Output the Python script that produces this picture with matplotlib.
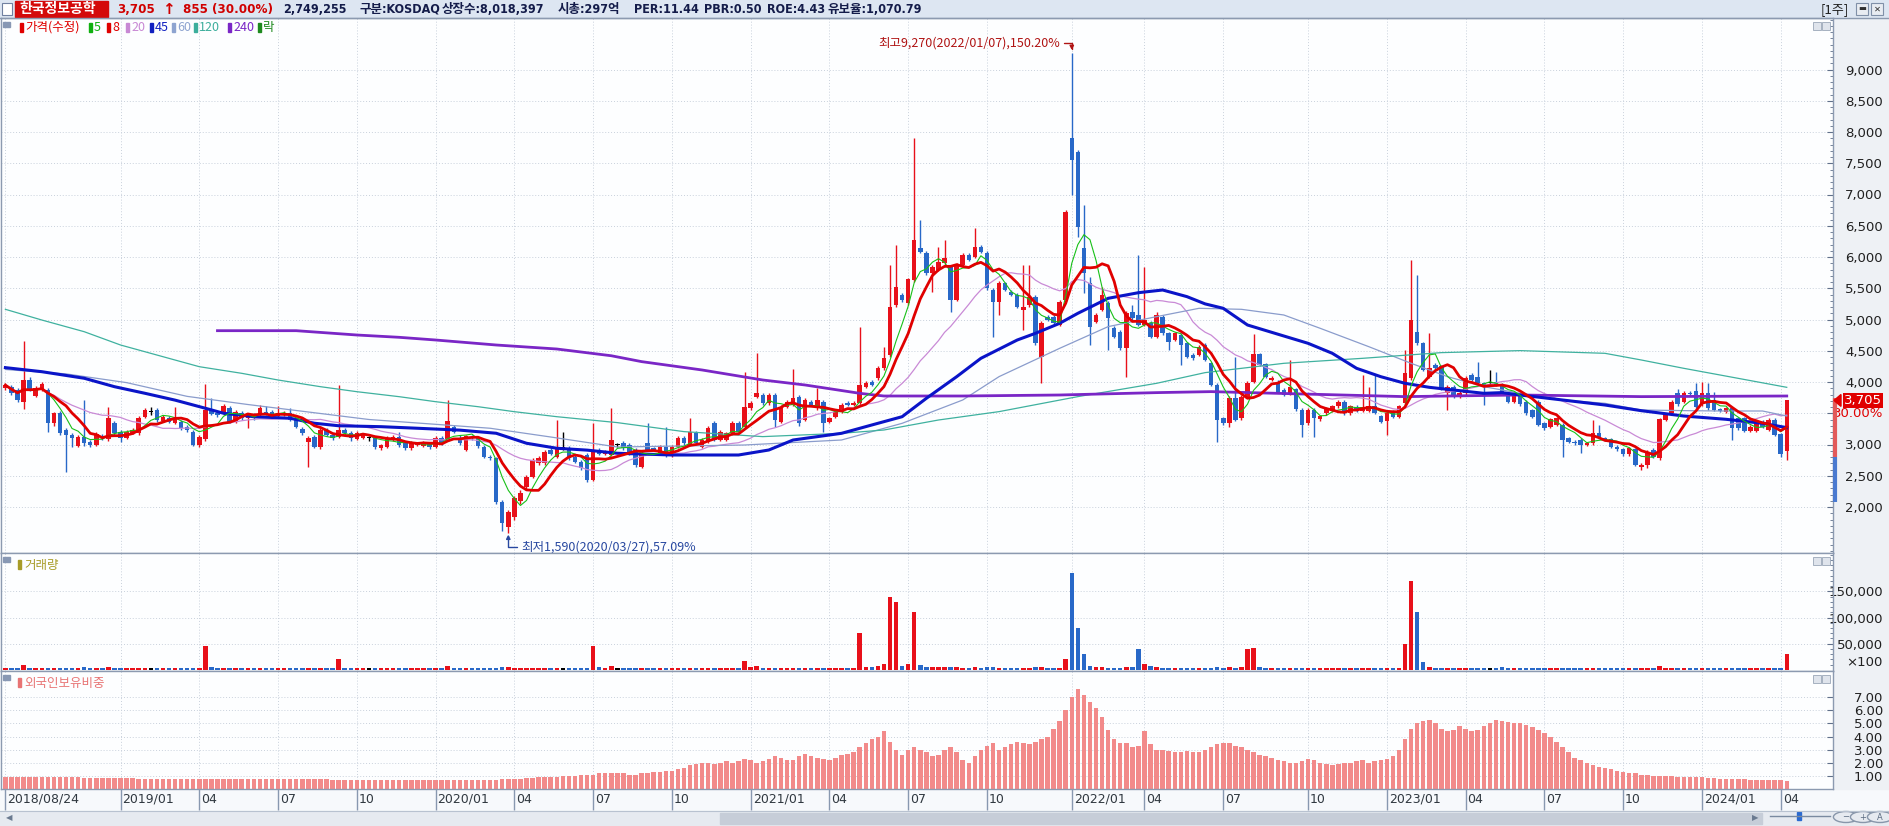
import numpy as np
import pandas as pd
import matplotlib
matplotlib.use('Agg')
import matplotlib.pyplot as plt
import matplotlib.transforms as mtransforms
from matplotlib import font_manager
from matplotlib.patches import Rectangle, Polygon, Circle
from matplotlib.ticker import FixedLocator, FuncFormatter

plt.rcParams['font.family'] = ['Noto Sans CJK KR', 'DejaVu Sans']
_names = {f.name for f in font_manager.fontManager.ttflist}
NARROW = 'Liberation Sans Narrow' if 'Liberation Sans Narrow' in _names else 'DejaVu Sans'
HEAD = ['DejaVu Sans', 'Noto Sans CJK KR']

# ---------------- data (weekly, 2018/08/24 ~ 2024/04) ----------------
start_date = '2018-08-24'

opens = [
    3900, 3925, 3870, 3685, 4030, 3780, 3890, 3870, 3340, 3500,
    3230, 3150, 2975, 3125, 3045, 2990, 3140, 3085, 3350, 3205,
    3110, 3190, 3180, 3445, 3525, 3550, 3380, 3420, 3350, 3365,
    3285, 3205, 2990, 3085, 3560, 3510, 3490, 3580, 3365, 3500,
    3420, 3470, 3470, 3525, 3525, 3455, 3470, 3500, 3390, 3250,
    3045, 3125, 2955, 3230, 3150, 3125, 3230, 3190, 3090, 3110,
    3100, 3100, 2940, 2965, 3070, 3125, 3030, 2940, 2990, 2975,
    3010, 2965, 3100, 3070, 3285, 3100, 2910, 3125, 3100, 2965,
    2805, 2780, 2085, 1685, 1845, 2090, 2315, 2485, 2700, 2700,
    2910, 2805, 2940, 2940, 2805, 2725, 2830, 2430, 2910, 2850,
    2830, 2995, 3020, 2990, 2910, 2645, 3020, 2940, 2860, 2965,
    2815, 2955, 3100, 2990, 3180, 2965, 3045, 3340, 3070, 3070,
    3180, 3340, 3285, 3580, 3765, 3790, 3660, 3790, 3365, 3605,
    3630, 3765, 3390, 3685, 3580, 3685, 3365, 3445, 3525, 3660,
    3630, 3660, 3925, 4005, 4060, 4220, 4430, 5230, 5390, 5260,
    5630, 6140, 6060, 5740, 5790, 5900, 5845, 5310, 5870, 6030,
    6005, 6165, 6060, 5470, 5285, 5580, 5445, 5390, 5150, 5230,
    5365, 4405, 5045, 5045, 4910, 5310, 7900, 7685, 6140, 5580,
    4965, 5150, 5260, 4860, 4805, 4540, 5125, 5070, 4910, 4940,
    4725, 5045, 4780, 4670, 4750, 4620, 4430, 4430, 4590, 4300,
    3950, 3420, 3340, 3740, 3420, 3765, 4005, 4450, 4290, 4030,
    4005, 3870, 3830, 3885, 3550, 3340, 3550, 3405, 3500, 3540,
    3615, 3685, 3500, 3605, 3540, 3540, 3615, 3455, 3380, 3525,
    3445, 3660, 4060, 4805, 4620, 4085, 4270, 4255, 3820, 3925,
    3775, 3830, 4110, 4085, 3980, 3990, 4005, 3950, 3820, 3685,
    3805, 3685, 3550, 3685, 3340, 3285, 3310, 3310, 3100, 3045,
    3070, 2990, 3020, 3180, 3100, 3085, 2965, 2925, 2850, 2925,
    2645, 2670, 2910, 2780, 3390, 3500, 3830, 3685, 3830, 3860,
    3650, 3820, 3710, 3565, 3525, 3580, 3420, 3420, 3220, 3220,
    3365, 3230, 3390, 3170, 2900,
]
highs = [
    3990, 3960, 3900, 4660, 4085, 3930, 4000, 3900, 3520, 3530,
    3260, 3180, 3160, 3720, 3070, 3200, 3170, 3605, 3380, 3230,
    3230, 3260, 3450, 3580, 3600, 3580, 3470, 3450, 3600, 3390,
    3310, 3230, 3150, 3970, 3740, 3540, 3650, 3610, 3560, 3530,
    3500, 3500, 3640, 3620, 3560, 3620, 3540, 3580, 3420, 3280,
    3140, 3150, 3260, 3260, 3180, 3950, 3260, 3220, 3210, 3190,
    3130, 3130, 3010, 3130, 3160, 3200, 3060, 3050, 3040, 3050,
    3040, 3130, 3130, 3710, 3320, 3150, 3160, 3150, 3130, 2990,
    2830, 2800, 2110, 1960, 2180, 2280, 2520, 2790, 2810, 2920,
    2940, 3400, 3205, 2970, 2830, 2750, 2860, 3350, 2940, 2910,
    3580, 3030, 3050, 3020, 2940, 2890, 3340, 2960, 2990, 3285,
    2990, 3130, 3130, 3420, 3210, 3100, 3290, 3370, 3230, 3200,
    3370, 3370, 4165, 3690, 4460, 3820, 3820, 3820, 3630, 3710,
    4205, 3790, 3740, 3710, 3900, 3710, 3440, 3550, 3660, 3690,
    3700, 4885, 4010, 4030, 4250, 4565, 5870, 6190, 5420, 5670,
    7900, 6590, 6090, 5870, 6165, 6270, 5870, 5900, 6060, 6060,
    6460, 6190, 6090, 5500, 5610, 5600, 5470, 5420, 5870, 5870,
    5390, 4970, 5070, 5070, 5310, 6750, 9270, 7710, 6830, 5685,
    5100, 5525, 5290, 4890, 4830, 5130, 5230, 6030, 5845, 4970,
    5125, 5070, 4800, 4800, 4780, 4640, 4460, 4590, 4620, 4320,
    3980, 3440, 3770, 4405, 3790, 4010, 4765, 4470, 4310, 4090,
    4030, 3900, 4350, 3910, 3580, 3580, 3580, 3480, 3600, 3640,
    3710, 3710, 3640, 3630, 4110, 3925, 4110, 3480, 3520, 3550,
    3640, 4510, 5950, 5710, 4640, 4780, 4300, 4280, 3950, 3950,
    3860, 4090, 4140, 4325, 4000, 4190, 4165, 3980, 3840, 3840,
    3830, 3710, 3570, 3710, 3360, 3430, 3440, 3340, 3120, 3070,
    3100, 3040, 3390, 3310, 3120, 3100, 2990, 2950, 2960, 2950,
    2700, 2910, 2940, 3430, 3510, 3710, 3885, 3850, 3850, 3990,
    4005, 3990, 3845, 3580, 3600, 3600, 3440, 3440, 3310, 3360,
    3390, 3420, 3420, 3190, 3705,
]
lows = [
    3870, 3800, 3680, 3565, 3850, 3760, 3860, 3205, 3300, 3150,
    2565, 2960, 2960, 2970, 2960, 2970, 3080, 3050, 3150, 3040,
    3090, 3170, 3160, 3420, 3480, 3360, 3360, 3340, 3330, 3240,
    3200, 2970, 2960, 3060, 3470, 3440, 3470, 3340, 3340, 3400,
    3260, 3400, 3450, 3480, 3420, 3440, 3450, 3370, 3260, 3160,
    2635, 2940, 2930, 3130, 3080, 3100, 3160, 3060, 3070, 3090,
    3060, 2930, 2920, 2940, 3050, 2960, 2920, 2920, 2970, 2960,
    2930, 2940, 3000, 3050, 3180, 3000, 2890, 3080, 2950, 2780,
    2750, 2050, 1620, 1590, 1800, 2050, 2290, 2460, 2680, 2680,
    2830, 2780, 2910, 2760, 2700, 2600, 2400, 2410, 2830, 2830,
    2810, 2960, 2910, 2830, 2640, 2620, 2890, 2890, 2840, 2800,
    2800, 2940, 3000, 2970, 3000, 2950, 3020, 3050, 3050, 3050,
    3160, 3180, 3260, 3550, 3740, 3630, 3630, 3285, 3340, 3580,
    3610, 3290, 3370, 3610, 3560, 3205, 3340, 3420, 3500, 3610,
    3610, 3630, 3900, 3930, 4030, 4190, 4400, 5200, 5280, 5230,
    5600, 6060, 5710, 5445, 5770, 5870, 5125, 5290, 5850, 5930,
    5980, 6060, 5470, 4725, 5070, 5450, 5370, 5180, 4830, 5200,
    4590, 3980, 4970, 4920, 4890, 5290, 6990, 6325, 5420, 4590,
    4940, 5130, 4510, 4700, 4510, 4085, 5000, 4890, 4890, 4700,
    4700, 4750, 4510, 4650, 4270, 4380, 4350, 4410, 4330, 3930,
    3045, 3310, 3285, 3370, 3390, 3740, 3980, 4250, 4060, 4010,
    3820, 3770, 3800, 3540, 3125, 3310, 3125, 3380, 3470, 3520,
    3590, 3470, 3470, 3520, 3520, 3520, 3490, 3340, 3150, 3420,
    3420, 3630, 4030, 4590, 4170, 4060, 4190, 3870, 3550, 3740,
    3750, 3800, 4010, 3950, 3630, 3960, 3930, 3790, 3660, 3660,
    3620, 3470, 3420, 3290, 3230, 3260, 3290, 2805, 3020, 3000,
    2860, 2970, 3000, 3100, 3050, 2940, 2900, 2820, 2820, 2650,
    2590, 2620, 2780, 2750, 3370, 3470, 3620, 3660, 3780, 3580,
    3620, 3550, 3530, 3520, 3500, 3070, 3230, 3200, 3200, 3200,
    3260, 3210, 3130, 2805, 2760,
]
closes = [
    3950, 3820, 3710, 4030, 3870, 3900, 3975, 3340, 3500, 3190,
    3150, 3100, 3125, 3030, 2990, 3170, 3110, 3420, 3180, 3100,
    3205, 3230, 3420, 3550, 3525, 3390, 3445, 3365, 3420, 3260,
    3230, 2990, 3125, 3550, 3490, 3470, 3620, 3365, 3525, 3420,
    3470, 3420, 3580, 3500, 3445, 3510, 3510, 3390, 3285, 3180,
    3110, 2965, 3230, 3150, 3100, 3230, 3180, 3100, 3180, 3165,
    3100, 2955, 2990, 3100, 3125, 2990, 2940, 3020, 3020, 3020,
    2955, 3100, 3020, 3375, 3205, 3020, 3135, 3100, 2975, 2805,
    2780, 2085, 1740, 1925, 2140, 2230, 2485, 2750, 2780, 2885,
    2850, 2940, 2940, 2780, 2725, 2620, 2430, 2885, 2850, 2885,
    3080, 2995, 2940, 2860, 2670, 2860, 2910, 2910, 2965, 2815,
    2965, 3100, 3020, 3205, 3020, 3070, 3260, 3070, 3205, 3180,
    3340, 3205, 3605, 3660, 3820, 3660, 3790, 3390, 3605, 3685,
    3740, 3340, 3710, 3630, 3710, 3340, 3420, 3525, 3630, 3630,
    3670, 3950, 3980, 3950, 4220, 4380, 5205, 5525, 5310, 5645,
    6270, 6085, 5740, 5845, 5925, 5980, 5310, 5870, 6030, 5950,
    6165, 6085, 5500, 5285, 5580, 5470, 5390, 5205, 5205, 5365,
    4620, 4940, 4990, 4950, 5285, 6725, 7550, 6485, 5740, 4885,
    5070, 5390, 5020, 4725, 4540, 5100, 5020, 4910, 4990, 4725,
    5070, 4780, 4645, 4780, 4590, 4405, 4380, 4565, 4350, 3950,
    3390, 3340, 3740, 3390, 3765, 3990, 4450, 4270, 4085, 4060,
    3845, 3790, 3925, 3565, 3310, 3550, 3420, 3455, 3580, 3615,
    3685, 3500, 3615, 3540, 3605, 3615, 3510, 3365, 3500, 3445,
    3615, 4150, 4990, 4620, 4190, 4220, 4220, 3900, 3925, 3765,
    3830, 4060, 4030, 3980, 3950, 3990, 3950, 3820, 3685, 3820,
    3650, 3500, 3445, 3310, 3260, 3405, 3420, 3070, 3045, 3020,
    2990, 3020, 3180, 3125, 3070, 2965, 2925, 2850, 2940, 2670,
    2670, 2885, 2805, 3405, 3490, 3685, 3650, 3830, 3810, 3605,
    3820, 3580, 3550, 3540, 3580, 3260, 3260, 3220, 3285, 3340,
    3285, 3390, 3150, 2850, 3705,
]

# volume (thousands, x100 shares)
volume_k = [
    3, 3, 3, 10, 3, 3, 3, 4, 3, 3, 4, 3, 3, 6, 3, 3, 3, 5, 3, 3,
    3, 3, 3, 3, 3, 3, 3, 3, 3, 3, 3, 3, 4, 45, 6, 3, 3, 3, 3, 3,
    3, 3, 3, 3, 3, 3, 3, 3, 3, 3, 4, 3, 3, 3, 3, 20, 4, 3, 3, 3,
    3, 3, 3, 3, 3, 3, 3, 3, 3, 3, 3, 3, 3, 8, 3, 3, 3, 3, 3, 3,
    3, 4, 5, 5, 4, 3, 3, 3, 3, 3, 3, 4, 3, 3, 3, 3, 4, 45, 5, 3,
    8, 3, 3, 3, 3, 3, 4, 3, 3, 3, 3, 3, 3, 4, 3, 3, 3, 3, 3, 3,
    3, 3, 18, 6, 8, 4, 3, 4, 3, 3, 4, 3, 4, 3, 3, 4, 3, 3, 3, 3,
    3, 70, 6, 5, 8, 12, 140, 130, 8, 12, 110, 10, 6, 5, 5, 5, 6, 5, 4, 4,
    5, 4, 5, 5, 4, 3, 3, 3, 4, 4, 5, 6, 3, 3, 4, 20, 185, 80, 30, 8,
    5, 5, 4, 4, 4, 6, 5, 40, 12, 8, 5, 4, 4, 3, 4, 4, 3, 3, 3, 4,
    6, 3, 5, 4, 5, 40, 42, 6, 4, 3, 3, 3, 4, 3, 4, 3, 3, 3, 3, 3,
    3, 3, 3, 3, 4, 3, 4, 3, 3, 3, 3, 50, 170, 110, 15, 6, 4, 4, 3, 3,
    3, 3, 3, 3, 3, 3, 3, 6, 3, 3, 3, 3, 3, 4, 3, 3, 3, 4, 3, 3,
    3, 3, 3, 3, 3, 3, 3, 3, 3, 3, 3, 3, 3, 8, 4, 4, 3, 3, 3, 3,
    3, 3, 3, 3, 3, 4, 3, 3, 3, 3, 3, 3, 3, 4, 30,
]

# foreign ownership ratio (%)
foreign_pct = [
    0.9, 0.9, 0.9, 0.9, 0.9, 0.9, 0.9, 0.9, 0.9, 0.9,
    0.9, 0.9, 0.9, 0.85, 0.85, 0.85, 0.85, 0.85, 0.85, 0.85,
    0.85, 0.85, 0.8, 0.8, 0.8, 0.8, 0.8, 0.8, 0.8, 0.8,
    0.8, 0.8, 0.8, 0.8, 0.8, 0.8, 0.8, 0.8, 0.8, 0.8,
    0.8, 0.8, 0.75, 0.75, 0.75, 0.75, 0.75, 0.75, 0.75, 0.75,
    0.75, 0.75, 0.75, 0.75, 0.7, 0.7, 0.7, 0.7, 0.7, 0.7,
    0.7, 0.7, 0.7, 0.7, 0.7, 0.7, 0.7, 0.7, 0.7, 0.7,
    0.7, 0.7, 0.7, 0.7, 0.7, 0.7, 0.7, 0.65, 0.65, 0.65,
    0.65, 0.7, 0.75, 0.8, 0.8, 0.8, 0.85, 0.85, 0.9, 0.9,
    0.9, 0.9, 1.0, 1.0, 1.0, 1.1, 1.1, 1.1, 1.2, 1.2,
    1.2, 1.2, 1.2, 1.1, 1.1, 1.2, 1.2, 1.3, 1.3, 1.4,
    1.4, 1.5, 1.6, 1.8, 1.9, 2.0, 2.0, 1.9, 2.0, 2.1,
    2.0, 2.1, 2.3, 2.2, 2.0, 2.1, 2.3, 2.5, 2.4, 2.2,
    2.2, 2.5, 2.7, 2.5, 2.4, 2.3, 2.2, 2.4, 2.6, 2.7,
    2.8, 3.2, 3.5, 3.8, 4.0, 4.4, 3.6, 3.0, 2.6, 3.0,
    3.2, 3.0, 2.8, 2.5, 2.6, 3.0, 3.2, 2.8, 2.2, 2.0,
    2.5, 3.0, 3.3, 3.5, 3.0, 3.2, 3.4, 3.6, 3.5, 3.4,
    3.6, 3.8, 4.0, 4.6, 5.2, 6.0, 7.0, 7.6, 7.2, 6.6,
    6.2, 5.5, 4.5, 3.8, 3.5, 3.5, 3.2, 3.3, 4.4, 3.4,
    3.0, 3.0, 2.9, 2.8, 2.8, 2.9, 2.8, 2.8, 3.0, 3.2,
    3.4, 3.5, 3.5, 3.3, 3.2, 3.0, 2.8, 2.6, 2.5, 2.4,
    2.2, 2.1, 2.0, 2.0, 2.1, 2.3, 2.2, 2.0, 1.9, 1.8,
    1.9, 2.0, 2.0, 2.1, 2.2, 2.0, 2.1, 2.2, 2.3, 2.5,
    3.0, 3.8, 4.6, 5.0, 5.2, 5.3, 5.0, 4.6, 4.4, 4.5,
    4.8, 4.6, 4.4, 4.5, 4.8, 5.0, 5.3, 5.2, 5.1, 5.0,
    5.0, 4.9, 4.7, 4.5, 4.3, 4.0, 3.6, 3.2, 2.8, 2.4,
    2.2, 2.0, 1.8, 1.7, 1.6, 1.5, 1.4, 1.3, 1.2, 1.2,
    1.1, 1.1, 1.0, 1.0, 1.0, 1.0, 0.95, 0.95, 0.9, 0.9,
    0.9, 0.85, 0.85, 0.8, 0.8, 0.8, 0.75, 0.75, 0.7, 0.7,
    0.7, 0.7, 0.65, 0.65, 0.6,
]

# long moving averages (week index, value)
ma45_weeks = [0, 6, 13, 18, 23, 28, 33, 36, 41, 47, 51, 55, 62, 68, 75, 81, 86, 91, 96, 101,
              110, 121, 126, 130, 138, 144, 148, 152, 157, 161, 167, 170, 174, 177, 182, 187,
              191, 195, 198, 201, 205, 211, 215, 219, 223, 227, 231, 235, 239, 244, 247, 250,
              257, 264, 270, 277, 284, 290, 294]
ma45_vals = [4230, 4165, 4060, 3925, 3820, 3710, 3580, 3500, 3445, 3420, 3340, 3300, 3285, 3260,
             3230, 3180, 3020, 2940, 2910, 2860, 2832, 2832, 2912, 3072, 3179, 3339, 3445, 3739,
             4085, 4379, 4672, 4779, 4939, 5099, 5339, 5429, 5472, 5366, 5250, 5179, 4912, 4736,
             4619, 4459, 4219, 4085, 3979, 3915, 3872, 3819, 3830, 3792, 3712, 3632, 3541, 3456,
             3403, 3339, 3270]
ma60_weeks = [0, 10, 20, 30, 40, 50, 60, 70, 80, 90, 101, 122, 138, 148, 158, 164, 174, 182, 190,
              197, 204, 211, 217, 225, 232, 238, 244, 250, 257, 264, 270, 277, 283, 290, 294]
ma60_vals = [4200, 4130, 3990, 3770, 3640, 3520, 3400, 3330, 3260, 3120, 2960, 2992, 3072, 3339,
             3712, 4086, 4539, 4886, 5046, 5179, 5163, 5072, 4859, 4566, 4299, 4086, 3926, 3819,
             3712, 3659, 3552, 3542, 3536, 3536, 3456]
ma120_weeks = [0, 6, 13, 19, 26, 32, 39, 45, 52, 58, 65, 71, 78, 84, 91, 101, 112, 125, 138, 145,
               154, 164, 177, 190, 198, 211, 224, 237, 250, 264, 270, 277, 283, 294]
ma120_vals = [5163, 4992, 4805, 4592, 4405, 4245, 4139, 4032, 3925, 3845, 3765, 3685, 3605, 3525,
              3445, 3350, 3206, 3126, 3179, 3232, 3392, 3526, 3766, 3979, 4150, 4299, 4379, 4470,
              4502, 4459, 4352, 4219, 4112, 3915]
ma240_weeks = [35, 48, 58, 65, 71, 81, 91, 100, 105, 115, 125, 132, 141, 145, 158, 174, 190, 199,
               231, 250, 270, 294]
ma240_vals = [4821, 4821, 4752, 4715, 4672, 4592, 4528, 4420, 4326, 4192, 4032, 3952, 3819, 3776,
              3776, 3792, 3830, 3846, 3766, 3792, 3766, 3776]

# ---------------- layout helpers ----------------
W, H = 1889, 826
fig = plt.figure(figsize=(W / 100, H / 100), dpi=100)
fig.patch.set_facecolor('#f7f9fc')


def rect(x0, y0, x1, y1):
    return [x0 / W, 1 - y1 / H, (x1 - x0) / W, (y1 - y0) / H]


def fx(px):
    return px / W


def fy(py):
    return 1 - py / H


def fig_rect(x0, y0, x1, y1, **kw):
    kw.setdefault('zorder', -1)
    r = Rectangle((fx(x0), fy(y1)), fx(x1 - x0), (y1 - y0) / H, transform=fig.transFigure, **kw)
    fig.patches.append(r)
    return r


RED = '#e8101a'
BLUE = '#2868c8'
EDGE = '#8c9ab0'
GRID = '#c9d1dc'
X0 = (1 - 5.4) / 6.059
X1 = (1833 - 5.4) / 6.059
PLOT_R = 1833

o = np.array(opens, float)
h = np.array(highs, float)
l = np.array(lows, float)
c = np.array(closes, float)
n = len(c)
x = np.arange(n)
dates = pd.date_range(start_date, periods=n, freq='W-FRI')

cols = np.where(c > o, RED, np.where(c < o, BLUE, '#000000'))

# date ticks (quarter starts, first one is the start date)
tick_idx, tick_lab = [0], ['2018/08/24']
for i in range(15, n):
    d, p = dates[i], dates[i - 1]
    if d.month != p.month and d.month in (1, 4, 7, 10):
        tick_idx.append(i)
        tick_lab.append(d.strftime('%Y/01') if d.month == 1 else d.strftime('%m'))

# backgrounds (behind axes)
fig_rect(PLOT_R, 18, W, 789, color='#eef1f5')
fig_rect(0, 0, W, 18, color='#dde6f2')
fig_rect(0, 811, W, H, color='#e6eaf0')


def style_axis(ax):
    ax.set_xlim(X0, X1)
    ax.set_facecolor('#fdfeff')
    for s in ax.spines.values():
        s.set_color(EDGE)
        s.set_linewidth(1)
    ax.yaxis.tick_right()
    ax.set_xticks(tick_idx)
    ax.tick_params(axis='x', length=0, labelbottom=False)
    ax.tick_params(axis='y', direction='in', length=4, color='#60708a', pad=36,
                   labelsize=9.5, labelcolor='#202020')
    ax.grid(True, which='major', color=GRID, ls=(0, (1, 2)), lw=0.7)
    ax.set_axisbelow(True)


def right_align(ax):
    for t in ax.get_yticklabels():
        t.set_ha('right')
        t.set_fontfamily(NARROW)


# ---------------- price panel ----------------
ax_p = fig.add_axes(rect(1, 18, PLOT_R, 553))
style_axis(ax_p)
ax_p.set_ylim(1264, 9824)
ax_p.yaxis.set_major_locator(FixedLocator(list(range(2000, 9001, 500))))
ax_p.yaxis.set_minor_locator(FixedLocator(list(range(1300, 9801, 100))))
# the 3,500 label is hidden behind the current-price box in the original
ax_p.yaxis.set_major_formatter(FuncFormatter(lambda v, p: '' if int(v) == 3500 else f'{int(v):,}'))
ax_p.tick_params(axis='y', which='minor', direction='in', length=2, color='#60708a')
right_align(ax_p)

body_lo = np.minimum(o, c)
body_h = np.maximum(np.abs(c - o), 14)
ax_p.vlines(x, np.minimum(l, body_lo), np.maximum(h, body_lo + body_h), colors=cols, lw=1, zorder=2)
ax_p.bar(x, body_h, bottom=body_lo, width=0.74, color=cols, linewidth=0, zorder=2)

cs = pd.Series(c)
ax_p.plot(x, cs.rolling(20, min_periods=1).mean(), color='#c98ad6', lw=0.9, zorder=3)
ax_p.plot(ma60_weeks, ma60_vals, color='#8a9ccc', lw=0.9, zorder=3)
ax_p.plot(ma120_weeks, ma120_vals, color='#3fb19f', lw=0.9, zorder=3)
ax_p.plot(ma240_weeks, ma240_vals, color='#7a26c6', lw=2.0, zorder=3)
ax_p.plot(ma45_weeks, ma45_vals, color='#0a14c8', lw=2.2, zorder=3)
ax_p.plot(x, cs.rolling(5, min_periods=1).mean(), color='#18c018', lw=0.8, zorder=4)
ax_p.plot(x, cs.rolling(8, min_periods=1).mean(), color='#e00000', lw=2.0, zorder=4)

# high / low annotations
hi_i = int(np.argmax(h))
lo_i = int(np.argmin(l))
ax_p.annotate('최고9,270(2022/01/07),150.20%', xy=(hi_i, h[hi_i] + 40), xytext=(hi_i - 1.9, 9424),
              ha='right', va='center', fontsize=9, color='#b01414',
              arrowprops=dict(arrowstyle='-|>', color='#b01414', lw=1, mutation_scale=6,
                              shrinkA=1, shrinkB=0,
                              connectionstyle='angle,angleA=0,angleB=90,rad=0'))
ax_p.annotate('최저1,590(2020/03/27),57.09%', xy=(lo_i, l[lo_i] - 30), xytext=(lo_i + 2.1, 1365),
              ha='left', va='center', fontsize=9, color='#2848a0',
              arrowprops=dict(arrowstyle='-|>', color='#2848a0', lw=1, mutation_scale=6,
                              shrinkA=1, shrinkB=0,
                              connectionstyle='angle,angleA=180,angleB=90,rad=0'))

# current price marker on the axis
trp = mtransforms.blended_transform_factory(ax_p.transAxes, ax_p.transData)
px1 = 1 / (PLOT_R - 1)
ax_p.plot([1 + 2 * px1, 1 + 2 * px1], [3744, 2800], transform=trp, color='#e25a5a', lw=3,
          solid_capstyle='butt', clip_on=False, zorder=5)
ax_p.plot([1 + 2 * px1, 1 + 2 * px1], [2800, 2080], transform=trp, color='#4a7ad0', lw=3,
          solid_capstyle='butt', clip_on=False, zorder=5)
ax_p.add_patch(Polygon([(1 + 1 * px1, c[-1]), (1 + 8 * px1, c[-1] + 95), (1 + 8 * px1, c[-1] - 95)],
                       closed=True, transform=trp, color='#e00000', clip_on=False, zorder=6))
ax_p.text(1 + 49 * px1, c[-1], f'{int(c[-1]):,}', transform=trp, ha='right', va='center',
          fontsize=9.5, color='white', family=NARROW,
          bbox=dict(boxstyle='square,pad=0.08', fc='#e00000', ec='none'), clip_on=False, zorder=6)
ax_p.text(1 + 50 * px1, c[-1] - 205, '30.00%', transform=trp, ha='right', va='center',
          fontsize=9.5, color='#e00000', family=NARROW, clip_on=False)

# ---------------- volume panel ----------------
ax_v = fig.add_axes(rect(1, 553, PLOT_R, 671))
style_axis(ax_v)
ax_v.set_ylim(-2, 223)
ax_v.yaxis.set_major_locator(FixedLocator([50, 100, 150]))
ax_v.yaxis.set_major_formatter(FuncFormatter(lambda v, p: f'{int(v * 1000):,}'))
ax_v.yaxis.set_minor_locator(FixedLocator(list(range(10, 221, 10))))
ax_v.tick_params(axis='y', which='minor', direction='in', length=2, color='#60708a')
right_align(ax_v)
ax_v.bar(x, volume_k, width=0.74, color=cols, linewidth=0, zorder=2)
trv = mtransforms.blended_transform_factory(ax_v.transAxes, ax_v.transData)
ax_v.text(1 + 50 * px1, 14, '×100', transform=trv, ha='right', va='center', fontsize=9.5,
          color='#202020', family=['DejaVu Sans'], clip_on=False)

# ---------------- foreign ownership panel ----------------
ax_f = fig.add_axes(rect(1, 671, PLOT_R, 789))
style_axis(ax_f)
ax_f.set_ylim(0, 9.0)
ax_f.yaxis.set_major_locator(FixedLocator([1, 2, 3, 4, 5, 6, 7]))
ax_f.yaxis.set_major_formatter(FuncFormatter(lambda v, p: f'{v:.2f}'))
right_align(ax_f)
ax_f.bar(x, foreign_pct, width=0.74, color='#f28a8a', linewidth=0, zorder=2)
ax_f.tick_params(axis='x', length=15, direction='out', color='#8898b0', width=1)
off = mtransforms.offset_copy(mtransforms.blended_transform_factory(ax_f.transData, ax_f.transAxes),
                              fig=fig, x=2, y=-4, units='dots')
for ti, tl in zip(tick_idx, tick_lab):
    ax_f.text(ti, 0, tl, transform=off, ha='left', va='top', fontsize=9, color='#303840',
              family=NARROW)

# ---------------- header bar ----------------
fig.add_artist(plt.Line2D([0, 1], [fy(18), fy(18)], color=EDGE, lw=1))
fig_rect(2, 3, 12, 15, fc='white', ec='#7080a0', lw=0.8, zorder=1)
fig_rect(15, 1, 108, 17, color='#d40a0a', zorder=1)
hy = fy(9.5)
fig.text(fx(19), hy, '한국정보공학', color='white', fontsize=10, fontweight='bold', va='center')
fig.text(fx(117), hy, '3,705', color='#d00000', fontsize=9.5, fontweight='bold', va='center',
         family=HEAD, fontstretch='condensed')
fig.text(fx(162), hy, '↑', color='#d00000', fontsize=11, fontweight='bold', va='center',
         family='DejaVu Sans')
fig.text(fx(183), hy, '855 (30.00%)', color='#d00000', fontsize=9.5, fontweight='bold',
         va='center', family=HEAD, fontstretch='condensed')
navy = '#141c4a'
for px, s in [(283, '2,749,255'), (359, '구분:KOSDAQ'), (442, '상장수:8,018,397'),
              (558, '시총:297억'), (634, 'PER:11.44'), (704, 'PBR:0.50'), (767, 'ROE:4.43'),
              (827, '유보율:1,070.79')]:
    fig.text(fx(px), hy, s, color=navy, fontsize=9, fontweight='bold', va='center',
             family=HEAD, fontstretch='condensed')
fig.text(fx(1821), hy, '[1주]', color='#202020', fontsize=9.5, va='center')
for bx, sym in [(1856, '▬'), (1871, '✕')]:
    fig_rect(bx, 3, bx + 12, 15, fc='#e8ecf2', ec='#8090a8', lw=0.8, zorder=1)
    fig.text(fx(bx + 6), fy(9), sym, color='#303030', fontsize=6, ha='center', va='center',
             family='DejaVu Sans')

# legend row in the price panel
fig_rect(3, 22, 10, 27, color='#8898b4', zorder=1)
legend_items = [(20, '가격(수정)', '#e00000'), (89, '5', '#10b010'), (107, '8', '#e00000'),
                (126, '20', '#c888d4'), (150, '45', '#1020c0'), (172, '60', '#8ea4d0'),
                (194, '120', '#3cae9c'), (228, '240', '#7a26c6'), (258, '락', '#1e8a1e')]
for px, s, col in legend_items:
    fig_rect(px, 23, px + 3, 32, color=col, zorder=1)
    fig.text(fx(px + 5), fy(27.5), s, color=col, fontsize=9, va='center')

# panel icons and titles
for top in (18, 553, 671):
    for bx in (1813, 1822):
        fig_rect(bx, top + 4, bx + 8, top + 12, fc='#dfe4ec', ec='#9aa6b8', lw=0.6, zorder=1)
for top, title, col in [(553, '거래량', '#a89c28'), (671, '외국인보유비중', '#e87474')]:
    fig_rect(3, top + 4, 10, top + 9, color='#8898b4', zorder=1)
    fig_rect(18, top + 7, 21, top + 16, color=col, zorder=1)
    fig.text(fx(24), fy(top + 12), title, color=col, fontsize=9, va='center')

# ---------------- bottom scroll bar ----------------
fig.add_artist(plt.Line2D([0, 1], [fy(811), fy(811)], color='#b8c2d0', lw=0.8))
fig_rect(720, 813, 1762, 824, color='#c6cdd8', zorder=1)
fig.text(fx(6), fy(818), '◀', fontsize=6, color='#6a7a90', va='center', family='DejaVu Sans')
fig.text(fx(1752), fy(818), '▶', fontsize=6, color='#6a7a90', va='center', family='DejaVu Sans')
fig.add_artist(plt.Line2D([fx(1770), fx(1830)], [fy(816), fy(816)], color='#7a8aa0', lw=1))
fig_rect(1797, 812, 1801, 820, color='#2a6ad0', zorder=1)
for cx, sym in [(1846, '−'), (1863, '+'), (1880, 'A')]:
    fig.patches.append(Circle((fx(cx), fy(817)), 5.5 / H, transform=fig.transFigure,
                              fc='#e6eaf0', ec='#8896aa', lw=1))
    fig.text(fx(cx), fy(817), sym, fontsize=6, color='#5a6a80', ha='center', va='center',
             family='DejaVu Sans')

fig.savefig('out.png', dpi=100, facecolor=fig.get_facecolor())
